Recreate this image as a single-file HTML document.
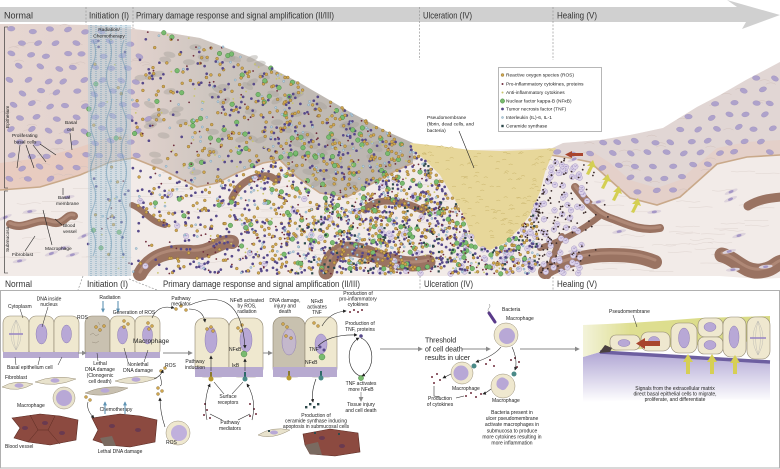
<!DOCTYPE html>
<html><head><meta charset="utf-8"><style>
html,body{margin:0;padding:0;background:#fff;width:780px;height:469px;overflow:hidden}
svg{display:block}
text{font-family:"Liberation Sans",Arial,sans-serif;fill:#222}
.b{font-size:9px;fill:#333}
.s{font-size:4.8px}
.m{font-size:5px}
.c{text-anchor:middle}
</style></head><body>
<svg id="s" xmlns="http://www.w3.org/2000/svg" width="780" height="469" viewBox="0 0 780 469">
<defs>
<linearGradient id="epiL" gradientUnits="userSpaceOnUse" x1="0" y1="0" x2="415" y2="0">
<stop offset="0" stop-color="#e6d6d1"/><stop offset="0.32" stop-color="#e2d2cd"/><stop offset="0.5" stop-color="#cec6c0"/><stop offset="0.75" stop-color="#c0bab4"/><stop offset="1" stop-color="#b8b3ae"/>
</linearGradient>
<linearGradient id="lav" x1="0" y1="0" x2="0" y2="1"><stop offset="0" stop-color="#b0a6d4"/><stop offset="1" stop-color="#ffffff"/></linearGradient>
<linearGradient id="yg" x1="0" y1="0" x2="1" y2="0"><stop offset="0" stop-color="#f3f3da"/><stop offset="0.25" stop-color="#dfdf92"/><stop offset="1" stop-color="#d8da84"/></linearGradient>
<marker id="ag" viewBox="0 0 6 6" refX="5" refY="3" markerWidth="5" markerHeight="5" markerUnits="userSpaceOnUse" orient="auto"><path d="M0,0L6,3L0,6z" fill="#8a8a8a"/></marker>
<marker id="ab" viewBox="0 0 6 6" refX="5" refY="3" markerWidth="3.5" markerHeight="3.5" markerUnits="userSpaceOnUse" orient="auto"><path d="M0,0L6,3L0,6z" fill="#222"/></marker>
<marker id="abl" viewBox="0 0 6 6" refX="5" refY="3" markerWidth="4" markerHeight="4" markerUnits="userSpaceOnUse" orient="auto"><path d="M0,0L6,3L0,6z" fill="#5f93b3"/></marker>
</defs>

<!-- top band arrow -->
<polygon points="0,7 737,7 727,0 780,15 742,29 746,22 0,22" fill="#d0d0d0"/>
<text class="b" x="4" y="18.5" textLength="29" lengthAdjust="spacingAndGlyphs">Normal</text>
<text class="b" x="89" y="18.5" textLength="40" lengthAdjust="spacingAndGlyphs">Initiation (I)</text>
<text class="b" x="136" y="18.5" textLength="198" lengthAdjust="spacingAndGlyphs">Primary damage response and signal amplification (II/III)</text>
<text class="b" x="423" y="18.5" textLength="49" lengthAdjust="spacingAndGlyphs">Ulceration (IV)</text>
<text class="b" x="557" y="18.5" textLength="40" lengthAdjust="spacingAndGlyphs">Healing (V)</text>
<g stroke="#999" stroke-width="0.7" stroke-dasharray="2,1.5">
<line x1="86" y1="7" x2="86" y2="30"/><line x1="133" y1="7" x2="133" y2="34"/>
<line x1="419.5" y1="7" x2="419.5" y2="60"/><line x1="553" y1="7" x2="553" y2="60"/>
</g>

<!-- tissue: submucosa -->
<path d="M0,24 L40,24 L90,25 L133,29 L170,33 L200,38 L250,57 L300,83 L350,112 L388,132 L413,143 L470,150 L556,148 L563,143 L600,140 L630,135 L663,128 L697,107 L720,95 L746,80 L765,70 L780,62 L780,278 L760,279 L720,276 L0,276 Z" fill="#f2ebe8"/>
<g id="fib"></g>
<!-- vessels -->
<g fill="none" stroke-linecap="round" stroke="#9a7362">
<path d="M10,224 C25,231 35,217 50,222 S65,213 74,216" stroke-width="8"/>
<path d="M132,205 C145,210 150,222 165,225" stroke-width="6"/>
<path d="M140,274 C150,255 170,250 190,252 S220,240 232,242" stroke-width="14"/>
<path d="M232,198 C238,185 248,178 262,176 S276,185 278,178" stroke-width="7"/>
<path d="M326,272 C330,250 345,245 365,252 S405,268 428,262" stroke-width="15"/>
<path d="M365,210 C375,198 395,200 410,205 S420,212 425,207" stroke-width="7"/>
<path d="M575,187 C585,200 595,213 610,218 S640,232 660,228" stroke-width="8"/>
<path d="M600,216 C585,228 565,240 540,248" stroke-width="6"/>
<path d="M548,276 C552,262 555,248 562,236" stroke-width="6"/>
<path d="M545,272 C560,262 585,255 610,255 S645,258 655,262" stroke-width="14"/>
<path d="M722,255 C735,258 745,273 760,271 S775,263 782,262" stroke-width="15"/>
<path d="M748,206 C758,200 768,198 782,197" stroke-width="9"/>
</g>
<g fill="none" stroke-linecap="round" stroke="#b8917f" stroke-width="3" opacity="0.7">
<path d="M10,223 C25,230 35,216 50,221 S65,212 74,215"/>
<path d="M140,272 C150,253 170,248 190,250 S220,238 232,240"/>
<path d="M326,270 C330,248 345,243 365,250 S405,266 428,260"/>
<path d="M545,270 C560,260 585,253 610,253 S645,256 655,260"/>
<path d="M722,253 C735,256 745,271 760,269 S775,261 782,260"/>
<path d="M575,186 C585,199 595,212 610,217 S640,231 660,227"/>
</g>
<!-- epithelium left -->
<path d="M0,24 L40,24 L90,25 L133,29 L170,33 L200,38 L250,57 L300,83 L350,112 L388,132 L413,143 L413,163 L397,170 L373,183 L347,197 L320,193 L297,177 L280,160 L263,163 L237,173 L217,183 L197,187 L163,170 L133,158 L110,162 L80,175 L40,187 L0,190 Z" fill="url(#epiL)"/>
<path d="M0,163 L40,158 L80,147 L110,137 L128,134 L133,158 L110,162 L80,175 L40,187 L0,190 Z" fill="#e8c8bb" opacity="0.75"/>
<!-- epithelium right -->
<path d="M548,150 L563,143 L600,140 L630,135 L663,128 L697,107 L720,95 L746,80 L765,70 L780,62 L780,155 L747,157 L717,164 L697,182 L680,197 L657,205 L630,198 L610,180 L590,162 L570,158 L550,155 Z" fill="#e1d6d4"/>
<path d="M590,150 L610,163 L630,180 L657,188 L680,180 L697,165 L717,148 L747,142 L780,140 L780,155 L747,157 L717,164 L697,182 L680,197 L657,205 L630,198 L610,180 L590,162 Z" fill="#e6cbc2" opacity="0.6"/>
<g fill="none" stroke="#c9a98a" stroke-width="1.6">
<polyline points="0,190 40,187 80,175 110,162 133,158 163,170 197,187 217,183 237,173 263,163 280,160 297,177 320,193 347,197 373,183 397,170 413,163"/>
<polyline points="550,155 570,158 590,162 610,180 630,198 657,205 680,197 697,182 717,164 747,157 780,155"/>
</g>
<!-- ulcer -->
<path d="M410,143 L440,146 L470,150 L500,151 L530,150 L556,148 L550,160 L545,172 L540,192 L530,215 L520,228 L505,243 L490,250 L478,246 L470,232 L462,212 L452,195 L440,175 L425,160 L413,150 Z" fill="#e7d79a"/>
<g id="nuc"></g>
<g id="dots"></g>
<!-- radiation -->
<g opacity="0.8">
<rect x="88" y="25" width="43" height="251" fill="#b3ccdb" opacity="0.6"/>
<g stroke="#6f9cb8" stroke-width="1.3" stroke-dasharray="1,1" opacity="0.8">
<line x1="91" y1="25" x2="91" y2="276"/><line x1="96" y1="25" x2="96" y2="276"/><line x1="101" y1="25" x2="101" y2="276"/><line x1="106" y1="25" x2="106" y2="276"/><line x1="111" y1="25" x2="111" y2="276"/><line x1="116" y1="25" x2="116" y2="276"/><line x1="121" y1="25" x2="121" y2="276"/><line x1="126" y1="25" x2="126" y2="276"/>
</g>
<g fill="none" stroke="#5f8fae" stroke-width="1.1" opacity="0.6">
<path d="M93,40 q5,12 0,24 q-5,12 0,24 q5,12 0,24 q-5,12 0,24 q5,12 0,24 q-5,12 0,24 q5,12 0,24 q-5,12 0,24 q5,12 0,24"/>
<path d="M109,40 q5,12 0,24 q-5,12 0,24 q5,12 0,24 q-5,12 0,24 q5,12 0,24 q-5,12 0,24 q5,12 0,24 q-5,12 0,24 q5,12 0,24"/>
<path d="M124,40 q-5,12 0,24 q5,12 0,24 q-5,12 0,24 q5,12 0,24 q-5,12 0,24 q5,12 0,24 q-5,12 0,24 q5,12 0,24 q-5,12 0,24"/>
</g>
</g>
<!-- brackets and labels -->
<g fill="none" stroke="#222" stroke-width="0.6">
<path d="M8,27 L4.5,27 L4.5,188 L8,188"/><path d="M8,191 L4.5,191 L4.5,273 L8,273"/>
<line x1="70" y1="133" x2="72" y2="150"/>
<line x1="20" y1="145" x2="17" y2="168"/><line x1="26" y1="145" x2="34" y2="168"/><line x1="33" y1="145" x2="46" y2="162"/><line x1="40" y1="144" x2="56" y2="155"/>
<line x1="63" y1="195" x2="63" y2="188"/><line x1="62" y1="225" x2="55" y2="219"/><line x1="52" y1="245" x2="43" y2="210"/><line x1="25" y1="251" x2="35" y2="236"/>
<line x1="459" y1="131" x2="474" y2="168"/>
</g>
<text class="s" transform="translate(9,128) rotate(-90)">Epithelium</text>
<text class="s" transform="translate(9,252) rotate(-90)">Submucosa</text>
<text class="s c" x="109" y="31">Radiation/</text>
<text class="s c" x="109" y="37.5">Chemotherapy</text>
<text class="s" x="65" y="124">Basal</text><text class="s" x="67" y="131">cell</text>
<text class="s" x="12" y="137">Proliferating</text><text class="s" x="14" y="143.5">basal cells</text>
<text class="s" x="58" y="199">Basal</text><text class="s" x="56" y="205">membrane</text>
<text class="s" x="63" y="227">Blood</text><text class="s" x="63" y="233">vessel</text>
<text class="s" x="45" y="250">Macrophage</text>
<text class="s" x="12" y="256">Fibroblast</text>
<text class="s" x="427" y="119">Pseudomembrane</text>
<text class="s" x="427" y="125.5">(fibrin, dead cells, and</text>
<text class="s" x="427" y="132">bacteria)</text>
<!-- healing arrows top -->
<g fill="#d4cf52">
<polygon points="586,174 590,166 587,166 593,160 596,168 593,167 589,175"/>
<polygon points="601,188 605,180 602,180 608,174 611,182 608,181 604,189"/>
<polygon points="612,200 616,192 613,192 619,186 622,194 619,193 615,201"/>
<polygon points="631,212 635,204 632,204 638,198 641,206 638,205 634,213"/>
</g>
<polygon points="583,153 572,153 572,151 565,154.5 572,158 572,156 583,156" fill="#a8452e"/>
<!-- legend -->
<rect x="498.5" y="67.5" width="103" height="64" fill="#fff" stroke="#999" stroke-width="0.7"/>
<circle cx="502.5" cy="75" r="1.5" fill="#cfa64e" stroke="#7a5f2a" stroke-width="0.35"/>
<circle cx="502.5" cy="84" r="1" fill="#6e2b3b"/>
<circle cx="502.5" cy="92.5" r="1" fill="#c9c46a"/>
<circle cx="502.5" cy="101" r="2.2" fill="#79bb6f" stroke="#3f7a3a" stroke-width="0.4"/>
<circle cx="502.5" cy="109" r="1.4" fill="#57498a"/>
<circle cx="502.5" cy="117.5" r="1.1" fill="#b6d0e0" stroke="#6d90a8" stroke-width="0.35"/>
<rect x="501.3" y="124.8" width="2.4" height="2.4" fill="#2e4a4c"/>
<text class="s" x="506" y="76.7">Reactive oxygen species (ROS)</text>
<text class="s" x="506" y="85.7">Pro-inflammatory cytokines, proteins</text>
<text class="s" x="506" y="94.2">Anti-inflammatory cytokines</text>
<text class="s" x="506" y="102.7">Nuclear factor kappa-B (NFκB)</text>
<text class="s" x="506" y="110.7">Tumor necrosis factor (TNF)</text>
<text class="s" x="506" y="119.2">Interleukin (IL)-6, IL-1</text>
<text class="s" x="506" y="127.7">Ceramide synthase</text>

<!-- second label row -->
<text class="b" x="5" y="287" textLength="27" lengthAdjust="spacingAndGlyphs">Normal</text>
<text class="b" x="87" y="287" textLength="41" lengthAdjust="spacingAndGlyphs">Initiation (I)</text>
<text class="b" x="163" y="287" textLength="197" lengthAdjust="spacingAndGlyphs">Primary damage response and signal amplification (II/III)</text>
<text class="b" x="424" y="287" textLength="49" lengthAdjust="spacingAndGlyphs">Ulceration (IV)</text>
<text class="b" x="557" y="287" textLength="40" lengthAdjust="spacingAndGlyphs">Healing (V)</text>
<g stroke="#999" stroke-width="0.7" stroke-dasharray="2,1.5">
<line x1="83" y1="276" x2="78" y2="290"/><line x1="129" y1="279" x2="157" y2="290"/>
<line x1="420" y1="276" x2="420" y2="290"/><line x1="553" y1="277" x2="553" y2="290"/>
</g>
<rect x="0.5" y="290.5" width="779" height="177.5" fill="none" stroke="#b0b0b0" stroke-width="1"/>

<!-- ===== lower panel: Normal ===== -->
<g stroke="#8f8670" stroke-width="0.6" fill="#efe8cf">
<rect x="3" y="316" width="26" height="41" rx="7"/><rect x="29" y="316" width="25" height="41" rx="7"/><rect x="54" y="316" width="25" height="41" rx="7"/>
</g>
<rect x="3" y="352" width="76" height="6" fill="#b7aad0"/>
<g fill="#b8a8d6" stroke="#8e7db5" stroke-width="0.5">
<ellipse cx="41.5" cy="334" rx="5.5" ry="10"/><ellipse cx="66.5" cy="334" rx="5" ry="9"/>
</g>
<g fill="none" stroke="#aaa" stroke-width="0.35">
<path d="M16,320 Q6,335 16,350"/><path d="M16,320 Q11,335 16,350"/><path d="M16,320 Q21,335 16,350"/><path d="M16,320 Q26,335 16,350"/>
</g>
<line x1="9" y1="334" x2="23" y2="334" stroke="#9a88c4" stroke-width="1.6"/>
<text class="m c" x="49" y="300.5">DNA inside</text><text class="m c" x="49" y="306">nucleus</text>
<text class="m" x="8" y="308">Cytoplasm</text>
<text class="m" x="7" y="369">Basal epithelium cell</text>
<g stroke="#222" stroke-width="0.5"><line x1="20" y1="309" x2="23" y2="318"/><line x1="48" y1="307" x2="42" y2="327"/><line x1="16" y1="365" x2="15" y2="357"/><line x1="38" y1="365" x2="40" y2="357"/><line x1="58" y1="365" x2="62" y2="357"/></g>
<text class="m" x="5" y="379">Fibroblast</text>
<g fill="#e8e2cc" stroke="#998f78" stroke-width="0.5">
<path d="M2,387 Q15,379 33,384 Q18,393 2,387Z"/><path d="M35,382 Q55,374 76,379 Q55,388 35,382Z"/>
<circle cx="64" cy="398" r="11"/>
</g>
<g fill="#b8a8d6"><ellipse cx="19" cy="385.5" rx="4.5" ry="2.2"/><ellipse cx="55" cy="380.5" rx="4.5" ry="2.2"/><circle cx="64" cy="398" r="8"/></g>
<text class="m" x="17" y="407">Macrophage</text>
<path d="M12,418 L40,414 L60,416 L78,420 L76,440 L50,445 L28,442 L14,438 L20,428 Z" fill="#8c4a40" stroke="#5a2a22" stroke-width="0.6"/>
<g stroke="#5a2a22" stroke-width="0.5" fill="none"><path d="M30,415 L38,430 L28,442"/><path d="M55,416 L48,430 L60,444"/><path d="M38,430 L48,430"/></g>
<g fill="#6a3a50"><ellipse cx="25" cy="428" rx="3" ry="2"/><ellipse cx="45" cy="423" rx="3" ry="2"/><ellipse cx="62" cy="433" rx="3" ry="2"/></g>
<text class="m" x="5" y="448">Blood vessel</text>

<!-- ===== Initiation ===== -->
<text class="m c" x="110" y="299">Radiation</text>
<g stroke="#5f93b3" stroke-width="1.1"><line x1="103" y1="301" x2="103" y2="312" marker-end="url(#abl)"/><line x1="118" y1="301" x2="118" y2="312" marker-end="url(#abl)"/></g>
<g stroke="#8f8670" stroke-width="0.6" fill="#efe8cf">
<rect x="85" y="316" width="25" height="41" rx="7" fill="#c9c1b0"/><rect x="110" y="316" width="25" height="41" rx="7"/><rect x="135" y="316" width="25" height="41" rx="7"/>
</g>
<rect x="85" y="352" width="75" height="6" fill="#b7aad0"/>
<g stroke="#8a8070" stroke-width="0.4" fill="none"><path d="M90,335 l3,-2 l3,3 l3,-2"/><path d="M92,342 l4,1 l3,-2"/><path d="M98,322 l2,3"/></g>
<g fill="#b8a8d6" stroke="#8e7db5" stroke-width="0.5"><ellipse cx="122.5" cy="335" rx="5" ry="9"/><ellipse cx="147.5" cy="335" rx="5" ry="9"/></g>
<g fill="#cfa64e" stroke="#7a5f2a" stroke-width="0.35">
<circle cx="96" cy="327" r="1.5"/><circle cx="100" cy="330" r="1.5"/><circle cx="104" cy="326" r="1.5"/>
<circle cx="124" cy="321" r="1.5"/><circle cx="128" cy="324" r="1.5"/><circle cx="124" cy="327" r="1.5"/>
<circle cx="148" cy="323" r="1.5"/><circle cx="152" cy="326" r="1.5"/><circle cx="149" cy="329" r="1.5"/>
<circle cx="176" cy="309" r="1.5"/><circle cx="181" cy="306" r="1.5"/><circle cx="186" cy="310" r="1.5"/>
<circle cx="161" cy="371" r="1.5"/><circle cx="165" cy="368" r="1.5"/>
<circle cx="158" cy="388" r="1.5"/><circle cx="162" cy="391" r="1.5"/><circle cx="158" cy="394" r="1.5"/>
<circle cx="86" cy="397" r="1.5"/><circle cx="90" cy="400" r="1.5"/>
<circle cx="172" cy="428" r="1.5"/><circle cx="175" cy="432" r="1.5"/>
</g>
<text class="m" x="77" y="319">ROS</text>
<text class="m c" x="134" y="314">Generation of ROS</text>
<text x="133" y="343" style="font-size:6.5px">Macrophage</text>
<text class="m c" x="100" y="365">Lethal</text><text class="m c" x="100" y="371">DNA damage</text><text class="m c" x="100" y="377">(Clonogenic</text><text class="m c" x="100" y="383">cell death)</text>
<text class="m c" x="138" y="366">Nonlethal</text><text class="m c" x="138" y="372">DNA damage</text>
<text class="m" x="165" y="367">ROS</text>
<g stroke="#222" stroke-width="0.5"><line x1="98" y1="361" x2="97" y2="353"/><line x1="128" y1="362" x2="124" y2="348"/><line x1="144" y1="362" x2="148" y2="350"/></g>
<path d="M85,393 Q105,384 128,388 Q105,399 85,393Z" fill="#c8c0b0" stroke="#998f78" stroke-width="0.5"/>
<ellipse cx="105" cy="390.5" rx="4.5" ry="2.2" fill="#b8a8d6"/>
<path d="M115,381 Q135,374 157,378 Q135,387 115,381Z" fill="#e8e2cc" stroke="#998f78" stroke-width="0.5"/>
<ellipse cx="136" cy="379.5" rx="4.5" ry="2.2" fill="#b8a8d6"/>
<text class="m c" x="116" y="411">Chemotherapy</text>
<g stroke="#5f93b3" stroke-width="1.1"><line x1="105" y1="414" x2="105" y2="402" marker-end="url(#abl)"/><line x1="125" y1="414" x2="125" y2="402" marker-end="url(#abl)"/></g>
<path d="M92,418 L120,414 L140,416 L157,420 L155,442 L130,447 L108,445 L93,440 L98,430 Z" fill="#8c4a40" stroke="#5a2a22" stroke-width="0.6"/>
<path d="M100,438 L112,436 L116,446 L104,446 Z" fill="#7a6a60"/>
<g fill="#6a3a50"><ellipse cx="112" cy="426" rx="3" ry="2"/><ellipse cx="138" cy="430" rx="3" ry="2"/></g>
<text class="m c" x="120" y="453">Lethal DNA damage</text>
<circle cx="178" cy="433" r="12" fill="#efe8cf" stroke="#998f78" stroke-width="0.5"/>
<circle cx="179" cy="433" r="8" fill="#c0b0dc"/>
<text class="m" x="166" y="444">ROS</text>

<!-- ===== Pathway ===== -->
<text class="m c" x="181" y="300">Pathway</text><text class="m c" x="181" y="305.5">mediator</text>
<g stroke="#8f8670" stroke-width="0.6" fill="#efe8cf"><rect x="195" y="318" width="34" height="59" rx="9"/><rect x="229" y="318" width="34" height="59" rx="9"/></g>
<rect x="195" y="367" width="68" height="10" fill="#b7aad0"/>
<g fill="#b8a8d6" stroke="#8e7db5" stroke-width="0.5"><ellipse cx="211" cy="340" rx="6" ry="13"/><ellipse cx="246" cy="340" rx="6" ry="12"/></g>
<g fill="#cfa64e" stroke="#7a5f2a" stroke-width="0.35">
<circle cx="207" cy="329" r="1.5"/><circle cx="211" cy="327" r="1.5"/><circle cx="213" cy="331" r="1.5"/>
<circle cx="238" cy="328" r="1.5"/><circle cx="242" cy="325" r="1.5"/><circle cx="241" cy="331" r="1.5"/>
</g>
<circle cx="244" cy="354" r="3" fill="#79bb6f" stroke="#3f7a3a" stroke-width="0.4"/>
<text class="m c" x="247" y="302">NFκB activated</text><text class="m c" x="247" y="307.5">by ROS,</text><text class="m c" x="247" y="313">radiation</text>
<text class="m" x="229" y="351">NFκB</text>
<text class="m" x="232" y="367">IκB</text>
<text class="m c" x="195" y="363">Pathway</text><text class="m c" x="195" y="369">induction</text>
<g><rect x="210" y="372" width="2" height="6" fill="#8a7a30"/><circle cx="211" cy="379" r="2.5" fill="#b89a30"/><rect x="244" y="372" width="2" height="6" fill="#2f6a68"/><circle cx="245" cy="379" r="2.5" fill="#4a8a88"/></g>
<text class="m c" x="228" y="398">Surface</text><text class="m c" x="228" y="404">receptors</text>
<g fill="#6e2b3b"><circle cx="205" cy="404" r="1"/><circle cx="207" cy="410" r="1"/><circle cx="204" cy="415" r="1"/><circle cx="210" cy="418" r="1"/><circle cx="250" cy="404" r="1"/><circle cx="254" cy="409" r="1"/><circle cx="256" cy="414" r="1"/><circle cx="250" cy="416" r="1"/></g>
<text class="m c" x="230" y="424">Pathway</text><text class="m c" x="230" y="430">mediators</text>
<g fill="none" stroke="#222" stroke-width="0.55">
<path d="M152,318 Q158,304 174,308" marker-end="url(#ab)"/>
<path d="M189,309 Q203,309 205,322" marker-end="url(#ab)"/>
<path d="M190,305 C218,293 242,298 245,348" marker-end="url(#ab)"/>
<path d="M211,371 L211,356" marker-end="url(#ab)"/>
<path d="M245,371 L245,359" marker-end="url(#ab)"/>
<path d="M207,420 Q203,400 210,384" marker-end="url(#ab)"/>
<path d="M252,420 Q257,400 247,384" marker-end="url(#ab)"/>
<line x1="224" y1="394" x2="214" y2="382"/><line x1="232" y1="394" x2="243" y2="382"/>
<line x1="222" y1="420" x2="210" y2="414"/><line x1="238" y1="420" x2="250" y2="414"/>
<path d="M154,379 Q161,376 163,370" marker-end="url(#ab)"/>
<path d="M160,376 Q163,385 160,386" />
<path d="M165,427 Q160,412 160,398" marker-end="url(#ab)"/>
<path d="M88,402 Q86,410 94,418" marker-end="url(#ab)"/>
</g>

<!-- ===== DNA damage / TNF ===== -->
<g stroke="#8f8670" stroke-width="0.6" fill="#efe8cf"><rect x="273" y="317" width="32" height="60" rx="9" fill="#c8c1af"/><rect x="305" y="317" width="32" height="60" rx="9"/></g>
<rect x="273" y="367" width="64" height="10" fill="#b7aad0"/>
<ellipse cx="289" cy="342" rx="7" ry="13" fill="#c4b8cc" stroke="#8e7db5" stroke-width="0.5"/>
<ellipse cx="321" cy="344" rx="6" ry="10" fill="#b8a8d6" stroke="#8e7db5" stroke-width="0.5"/>
<g fill="#cfa64e" stroke="#7a5f2a" stroke-width="0.35"><circle cx="283" cy="324" r="1.5"/><circle cx="287" cy="327" r="1.5"/><circle cx="286" cy="336" r="1.5"/><circle cx="291" cy="338" r="1.5"/><circle cx="314" cy="323" r="1.5"/><circle cx="318" cy="326" r="1.5"/></g>
<g fill="#57498a"><circle cx="320" cy="347" r="1.5"/><circle cx="324" cy="350" r="1.5"/><circle cx="361" cy="336" r="1.8"/></g>
<g fill="#79bb6f" stroke="#3f7a3a" stroke-width="0.4"><circle cx="322" cy="357" r="3"/><circle cx="361" cy="378" r="2.6"/></g>
<g><rect x="288" y="371" width="2" height="6" fill="#8a7a30"/><circle cx="289" cy="378" r="2.5" fill="#b89a30"/><rect x="320" y="371" width="2" height="6" fill="#2f6a68"/><circle cx="321" cy="378" r="2.5" fill="#4a8a88"/></g>
<text class="m c" x="285" y="302">DNA damage,</text><text class="m c" x="285" y="307.5">injury and</text><text class="m c" x="285" y="313">death</text>
<text class="m c" x="317" y="303">NFκB</text><text class="m c" x="317" y="308.5">activates</text><text class="m c" x="317" y="314">TNF</text>
<text class="m c" x="358" y="295">Production of</text><text class="m c" x="358" y="300.5">pro-inflammatory</text><text class="m c" x="358" y="306">cytokines</text>
<g fill="#6e2b3b"><circle cx="350" cy="312" r="1"/><circle cx="354" cy="310" r="1"/><circle cx="358" cy="312" r="1"/><circle cx="362" cy="310" r="1"/></g>
<text class="m c" x="360" y="325">Production of</text><text class="m c" x="360" y="331">TNF, proteins</text>
<text class="m" x="309" y="351">TNF</text>
<text class="m" x="305" y="364">NFκB</text>
<g fill="none" stroke="#222" stroke-width="0.6">
<path d="M361,338 A15,20 0 0 1 362,376" marker-end="url(#ab)"/>
<path d="M360,376 A15,20 0 0 1 359,338" marker-end="url(#ab)"/>
<path d="M318,346 Q330,334 357,335" marker-end="url(#ab)"/>
<path d="M322,326 Q330,312 346,311" marker-end="url(#ab)"/>
<path d="M316,379 Q311,392 313,402" marker-end="url(#ab)"/>
</g>
<text class="m c" x="361" y="385">TNF activates</text><text class="m c" x="361" y="391">more NFκB</text>
<line x1="361" y1="392" x2="361" y2="401" stroke="#aaa" stroke-width="1" marker-end="url(#ag)"/>
<text class="m c" x="361" y="406">Tissue injury</text><text class="m c" x="361" y="412">and cell death</text>
<g fill="#2e4a4c"><rect x="305" y="406" width="2.4" height="2.4"/><rect x="309" y="403" width="2.4" height="2.4"/><rect x="313" y="406" width="2.4" height="2.4"/><rect x="317" y="403" width="2.4" height="2.4"/></g>
<text class="m c" x="316" y="417">Production of</text><text class="m c" x="316" y="422.5">ceramide synthase inducing</text><text class="m c" x="316" y="428">apoptosis in submucosal cells</text>
<path d="M258,435 Q272,426 290,430 Q272,440 258,435Z" fill="#e8e2cc" stroke="#998f78" stroke-width="0.5"/>
<ellipse cx="274" cy="432.5" rx="4" ry="2" fill="#b8a8d6"/>
<path d="M303,434 L330,429 L358,433 L360,452 L335,456 L310,454 L305,445 Z" fill="#8c4a40" stroke="#5a2a22" stroke-width="0.6"/>
<path d="M305,445 L318,442 L322,455 L310,454 Z" fill="#7a6a60"/>
<g fill="#6a3a50"><ellipse cx="322" cy="438" rx="3" ry="2"/><ellipse cx="342" cy="446" rx="3" ry="2"/></g>
<g fill="#2e4a4c"><rect x="314" y="432" width="2" height="2"/><rect x="338" y="433" width="2" height="2"/><rect x="268" y="430" width="2" height="2"/></g>

<!-- gray flow arrows -->
<g stroke="#8a8a8a" stroke-width="1">
<line x1="78" y1="353" x2="86" y2="353" marker-end="url(#ag)"/>
<line x1="163" y1="353" x2="192" y2="353" marker-end="url(#ag)"/>
<line x1="263" y1="353" x2="272" y2="353" marker-end="url(#ag)"/>
<line x1="380" y1="349" x2="422" y2="349" marker-end="url(#ag)"/>
<line x1="462" y1="349" x2="490" y2="349" marker-end="url(#ag)"/>
<line x1="520" y1="349" x2="579" y2="349" marker-end="url(#ag)"/>
</g>

<!-- ===== Ulceration ===== -->
<text x="425" y="342.5" style="font-size:7px">Threshold</text>
<text x="425" y="351.5" style="font-size:7px">of cell death</text>
<text x="425" y="360" style="font-size:7px">results in ulcer</text>
<path d="M489,313 L495,322" stroke="#5a3a8a" stroke-width="3" stroke-linecap="round"/>
<path d="M489,313 q-2,-3 0,-5 q2,-2 0,-4" fill="none" stroke="#555" stroke-width="0.4"/>
<text class="m" x="502" y="311">Bacteria</text>
<text class="m" x="506" y="320">Macrophage</text>
<g fill="#efe8cf" stroke="#998f78" stroke-width="0.5"><circle cx="506" cy="335" r="12"/><circle cx="462" cy="373" r="11"/><circle cx="503" cy="386" r="12"/></g>
<g fill="#b8a8d6"><circle cx="507" cy="336" r="8"/><circle cx="461" cy="373" r="7.5"/><path d="M497,381 q4,-6 9,-2 q5,3 1,8 q-3,5 -7,2 q-5,-2 -3,-8z"/></g>
<g fill="#4a8a88"><circle cx="474" cy="366" r="2.5"/><circle cx="514" cy="374" r="2.5"/></g>
<g fill="#6e2b3b">
<circle cx="486" cy="364" r="1"/><circle cx="490" cy="360" r="1"/><circle cx="494" cy="366" r="1"/><circle cx="515" cy="358" r="1"/><circle cx="519" cy="362" r="1"/><circle cx="517" cy="367" r="1"/><circle cx="511" cy="360" r="1"/>
<circle cx="432" cy="377" r="1"/><circle cx="437" cy="374" r="1"/><circle cx="440" cy="380" r="1"/><circle cx="434" cy="383" r="1"/>
<circle cx="466" cy="396" r="1"/><circle cx="471" cy="393" r="1"/><circle cx="476" cy="397" r="1"/><circle cx="481" cy="394" r="1"/>
</g>
<g fill="none" stroke="#222" stroke-width="0.55">
<path d="M501,347 Q494,356 476,362" marker-end="url(#ab)"/>
<path d="M512,347 Q518,360 515,370" marker-end="url(#ab)"/>
<path d="M451,374 L443,378" marker-end="url(#ab)"/>
<path d="M491,389 Q486,393 483,394" marker-end="url(#ab)"/>
<path d="M434,386 L434,396 L440,397"/>
<line x1="456" y1="398" x2="464" y2="396"/>
</g>
<text class="m" x="452" y="390">Macrophage</text>
<text class="m" x="492" y="402">Macrophage</text>
<text class="m c" x="440" y="400">Production</text><text class="m c" x="440" y="406">of cytokines</text>
<text class="m c" x="512" y="414">Bacteria present in</text>
<text class="m c" x="512" y="420">ulcer pseudomembrane</text>
<text class="m c" x="512" y="426">activate macrophages in</text>
<text class="m c" x="512" y="432.5">submucosa to produce</text>
<text class="m c" x="512" y="438.5">more cytokines resulting in</text>
<text class="m c" x="512" y="444.5">more inflammation</text>

<!-- ===== Healing ===== -->
<path d="M583,357 L600,352 L770,362 L770,400 Q680,398 583,402 Z" fill="url(#lav)"/>
<path d="M583,325 Q640,323 700,318 L770,316 L770,340 L600,352 L583,357 Z" fill="url(#yg)"/>
<g stroke="#8f8670" stroke-width="0.6" fill="#efe8cf">
<rect x="610" y="335" width="30" height="15" rx="6"/>
<rect x="641" y="332" width="29" height="19" rx="7"/>
<rect x="671" y="323" width="26" height="30" rx="8"/>
<rect x="698" y="318" width="25" height="19" rx="7"/>
<rect x="698" y="337" width="25" height="17" rx="6"/>
<rect x="723" y="317" width="23" height="40" rx="8"/>
<rect x="747" y="317" width="23" height="42" rx="8"/>
</g>
<g fill="#b8a8d6" stroke="#8e7db5" stroke-width="0.5">
<ellipse cx="624" cy="343" rx="6" ry="3.5"/><ellipse cx="654" cy="341" rx="5.5" ry="4.5"/><ellipse cx="684" cy="338" rx="5.5" ry="10"/>
<ellipse cx="710" cy="327" rx="6" ry="4.5"/><ellipse cx="710" cy="345" rx="6" ry="4.5"/><ellipse cx="734" cy="337" rx="5" ry="11"/>
</g>
<g fill="none" stroke="#aaa" stroke-width="0.35"><path d="M758,321 Q748,338 758,355"/><path d="M758,321 Q753,338 758,355"/><path d="M758,321 Q763,338 758,355"/><path d="M758,321 Q768,338 758,355"/></g>
<line x1="750" y1="338" x2="766" y2="338" stroke="#9a88c4" stroke-width="1.6"/>
<path d="M600,352 L770,362" stroke="#6d5fa0" stroke-width="3.5"/>
<path d="M599,353 L605,345 L612,348 L610,352 Z" fill="#4a4040"/>
<polygon points="660,341 645,341 645,338 636,343.5 645,349 645,346 660,346" fill="#a8452e"/>
<g fill="#d6cf55">
<polygon points="686,374 686,362 683,362 688,354 693,362 690,362 690,374"/>
<polygon points="710,374 710,362 707,362 712,354 717,362 714,362 714,374"/>
<polygon points="733,374 733,363 730,363 735,355 740,363 737,363 737,374"/>
</g>
<text class="m" x="609" y="313">Pseudomembrane</text>
<line x1="633" y1="315" x2="637" y2="327" stroke="#222" stroke-width="0.5"/>
<text class="m c" x="675" y="390">Signals from the extracellular matrix</text>
<text class="m c" x="675" y="395.5">direct basal epithelial cells to migrate,</text>
<text class="m c" x="675" y="401">proliferate, and differentiate</text>
</svg>
<script>
(function(){
var NS='http://www.w3.org/2000/svg';
var seed=7;function R(){seed=(seed*16807)%2147483647;return (seed-1)/2147483646;}
function el(p,t,a){var e=document.createElementNS(NS,t);for(var k in a)e.setAttribute(k,a[k]);p.appendChild(e);return e;}
function pip(x,y,p){var c=false;for(var i=0,j=p.length-1;i<p.length;j=i++){var xi=p[i][0],yi=p[i][1],xj=p[j][0],yj=p[j][1];if(((yi>y)!=(yj>y))&&(x<(xj-xi)*(y-yi)/(yj-yi)+xi))c=!c;}return c;}
function interp(pts,x){for(var i=0;i<pts.length-1;i++){if(x>=pts[i][0]&&x<=pts[i+1][0]){var t=(x-pts[i][0])/(pts[i+1][0]-pts[i][0]);return pts[i][1]+t*(pts[i+1][1]-pts[i][1]);}}return pts[pts.length-1][1];}
var TL=[[0,24],[40,24],[90,25],[133,29],[170,33],[200,38],[250,57],[300,83],[350,112],[388,132],[413,143]];
var ML=[[0,190],[40,187],[80,175],[110,162],[133,158],[163,170],[197,187],[217,183],[237,173],[263,163],[280,160],[297,177],[320,193],[347,197],[373,183],[397,170],[413,163]];
var TR=[[548,150],[563,143],[600,140],[630,135],[663,128],[697,107],[720,95],[746,80],[765,70],[780,62]];
var MR=[[550,155],[570,158],[590,162],[610,180],[630,198],[657,205],[680,197],[697,182],[717,164],[747,157],[780,155]];
var UL=[[410,143],[440,146],[470,150],[500,151],[530,150],[556,148],[550,160],[545,172],[540,192],[530,215],[520,228],[505,243],[490,250],[478,246],[470,232],[462,212],[452,195],[440,175],[425,160],[413,150]];
var LE=TL.concat(ML.slice().reverse());
var RE=TR.concat(MR.slice().reverse());
var TOP=TL.concat([[470,150],[548,150]]).concat(TR.slice(1));
var gN=document.getElementById('nuc'),gD=document.getElementById('dots'),gF=document.getElementById('fib');
function cl(v){return v<0?0:v>1?1:v;}
// fibers
for(var i=0;i<260;i++){var x=R()*780,y=40+R()*236;if(y<interp(TOP,x)+3||pip(x,y,LE)||pip(x,y,RE)||pip(x,y,UL)||y>274)continue;
el(gF,'path',{d:'M'+x.toFixed(1)+','+y.toFixed(1)+' q6,'+(R()*4-2).toFixed(1)+' 12,0 t12,0',fill:'none',stroke:'#e0d5d1','stroke-width':'0.5'});}
// ulcer texture
for(var i=0;i<260;i++){var x=410+R()*146,y=143+R()*108;if(!pip(x,y,UL))continue;
el(gN,'path',{d:'M'+x.toFixed(1)+','+y.toFixed(1)+' q2,-1.5 4,0',fill:'none',stroke:'#c9b46a','stroke-width':'0.5'});}
// faint cell outlines
for(var i=0;i<220;i++){var x=R()*780,y=24+R()*180;var inL=pip(x,y,LE)&&x<150,inR=pip(x,y,RE);if(!inL&&!inR)continue;
el(gN,'path',{d:'M'+x.toFixed(1)+','+y.toFixed(1)+' q5,-3 10,0',fill:'none',stroke:'#d3c2bd','stroke-width':'0.5'});}
// epithelial nuclei
function nuclei(poly,x0,x1,y0,y1,filt){var row=0;for(var y=y0;y<y1;y+=12.5){row++;for(var x=x0+(row%2)*9;x<x1;x+=18){var xx=x+R()*6-3,yy=y+R()*4-2;
if(!pip(xx,yy,poly)||!pip(xx+4,yy,poly)||!pip(xx-4,yy,poly)||!pip(xx,yy+3,poly)||!pip(xx,yy-3,poly))continue;if(filt&&!filt(xx,yy))continue;
var a=(R()*60-30).toFixed(0);
el(gN,'ellipse',{cx:xx.toFixed(1),cy:yy.toFixed(1),rx:'3.8',ry:'2.4',fill:'#a99dcb',stroke:'#9184b8','stroke-width':'0.3',opacity:'0.9',transform:'rotate('+a+' '+xx.toFixed(1)+' '+yy.toFixed(1)+')'});}}}
nuclei(LE,3,150,30,192,function(x,y){return x<140||R()<0.4;});
nuclei(RE,556,780,66,206,null);
// damaged gray cells
for(var i=0;i<140;i++){var x=140+R()*275,y=30+R()*165;if(!pip(x,y,LE)||!pip(x,y+4,LE))continue;var a=(R()*60-30).toFixed(0);
el(gN,'ellipse',{cx:x.toFixed(1),cy:y.toFixed(1),rx:'6',ry:'3',fill:'#a6a19b',opacity:'0.45',transform:'rotate('+a+' '+x.toFixed(1)+' '+y.toFixed(1)+')'});}
// fibroblasts in submucosa
for(var i=0;i<60;i++){var x=R()*780,y=150+R()*125;if((x>88&&x<560)||y<interp(TOP,x)+4||pip(x,y,LE)||pip(x,y,RE)||pip(x,y,UL)||y>272)continue;var a=(-25+R()*20).toFixed(0);
var g=el(gN,'g',{transform:'translate('+x.toFixed(1)+','+y.toFixed(1)+') rotate('+a+')'});
el(g,'ellipse',{cx:'0',cy:'0',rx:'7',ry:'1.8',fill:'#ddd3dc'});el(g,'ellipse',{cx:'0',cy:'0',rx:'2.6',ry:'1.3',fill:'#a597c6'});}
// macrophage-like cells
function mac(x,y){el(gN,'circle',{cx:x.toFixed(1),cy:y.toFixed(1),r:'2.8',fill:'#dcd2e8',stroke:'#ab9dc6','stroke-width':'0.5'});
el(gN,'path',{d:'M'+(x-1.2).toFixed(1)+','+(y-0.8).toFixed(1)+' q1.5,1.5 2.5,-0.5',fill:'none',stroke:'#9a8bbf','stroke-width':'0.6'});}
for(var i=0;i<400;i++){var x=380+R()*220,y=140+R()*136;if(y<interp(TOP,x)+2||pip(x,y,LE)||pip(x,y,RE)||pip(x,y,UL)||y>274)continue;
var near=(x>520&&x<585)||(x>455&&x<545&&y>235);if(!near&&R()>0.15)continue;if(x>585&&R()>0.3)continue;mac(x,y);}
for(var i=0;i<25;i++){var x=140+R()*280,y=170+R()*100;if(y<interp(TOP,x)+2||pip(x,y,LE)||y>272)continue;mac(x,y);}
// dots
function dot(x,y,t){var X=x.toFixed(1),Y=y.toFixed(1);
if(t==0)el(gD,'circle',{cx:X,cy:Y,r:'1.45',fill:'#cfa64e',stroke:'#7a5f2a','stroke-width':'0.35'});
else if(t==1)el(gD,'circle',{cx:X,cy:Y,r:'1.35',fill:'#57498a'});
else if(t==2)el(gD,'circle',{cx:X,cy:Y,r:'0.9',fill:'#6e2b3b'});
else if(t==3)el(gD,'circle',{cx:X,cy:Y,r:'2.3',fill:'#79bb6f',stroke:'#3f7a3a','stroke-width':'0.4'});
else if(t==4)el(gD,'circle',{cx:X,cy:Y,r:'1.1',fill:'#b6d0e0',stroke:'#6d90a8','stroke-width':'0.35'});
else if(t==5)el(gD,'rect',{x:(x-1.1).toFixed(1),y:(y-1.1).toFixed(1),width:'2.2',height:'2.2',fill:'#2e4a4c'});
else if(t==6)el(gD,'circle',{cx:X,cy:Y,r:'0.9',fill:'#c9c46a'});
else el(gD,'circle',{cx:X,cy:Y,r:'0.9',fill:'#3a2a2a'});}
for(var i=0;i<2700;i++){var x=88+R()*327,y=24+R()*176;if(!pip(x,y,LE))continue;
var d=x<135?0.06:0.18+0.68*cl((x-140)/190);if(R()>d)continue;var r=R(),t=r<0.35?0:r<0.6?1:r<0.7?2:r<0.8?3:r<0.92?4:6;dot(x,y,t);}
for(var i=0;i<6200;i++){var x=88+R()*520,y=140+R()*136;if(y>274||y<interp(TOP,x)+1.5||pip(x,y,LE)||pip(x,y,UL)||pip(x,y,RE))continue;
var d,t;if(x<135)d=0.06;else if(x<=540)d=0.12+0.72*cl((x-140)/250);else d=0.3*cl((610-x)/70);
if(R()>d)continue;
if(x>538||(x>470&&y<240&&R()<0.5)){t=7;}else{var r=R();t=r<0.28?0:r<0.55?1:r<0.68?2:r<0.74?3:r<0.84?4:r<0.93?(x>290?5:1):6;}
dot(x,y,t);}
})();
</script>
</body></html>
